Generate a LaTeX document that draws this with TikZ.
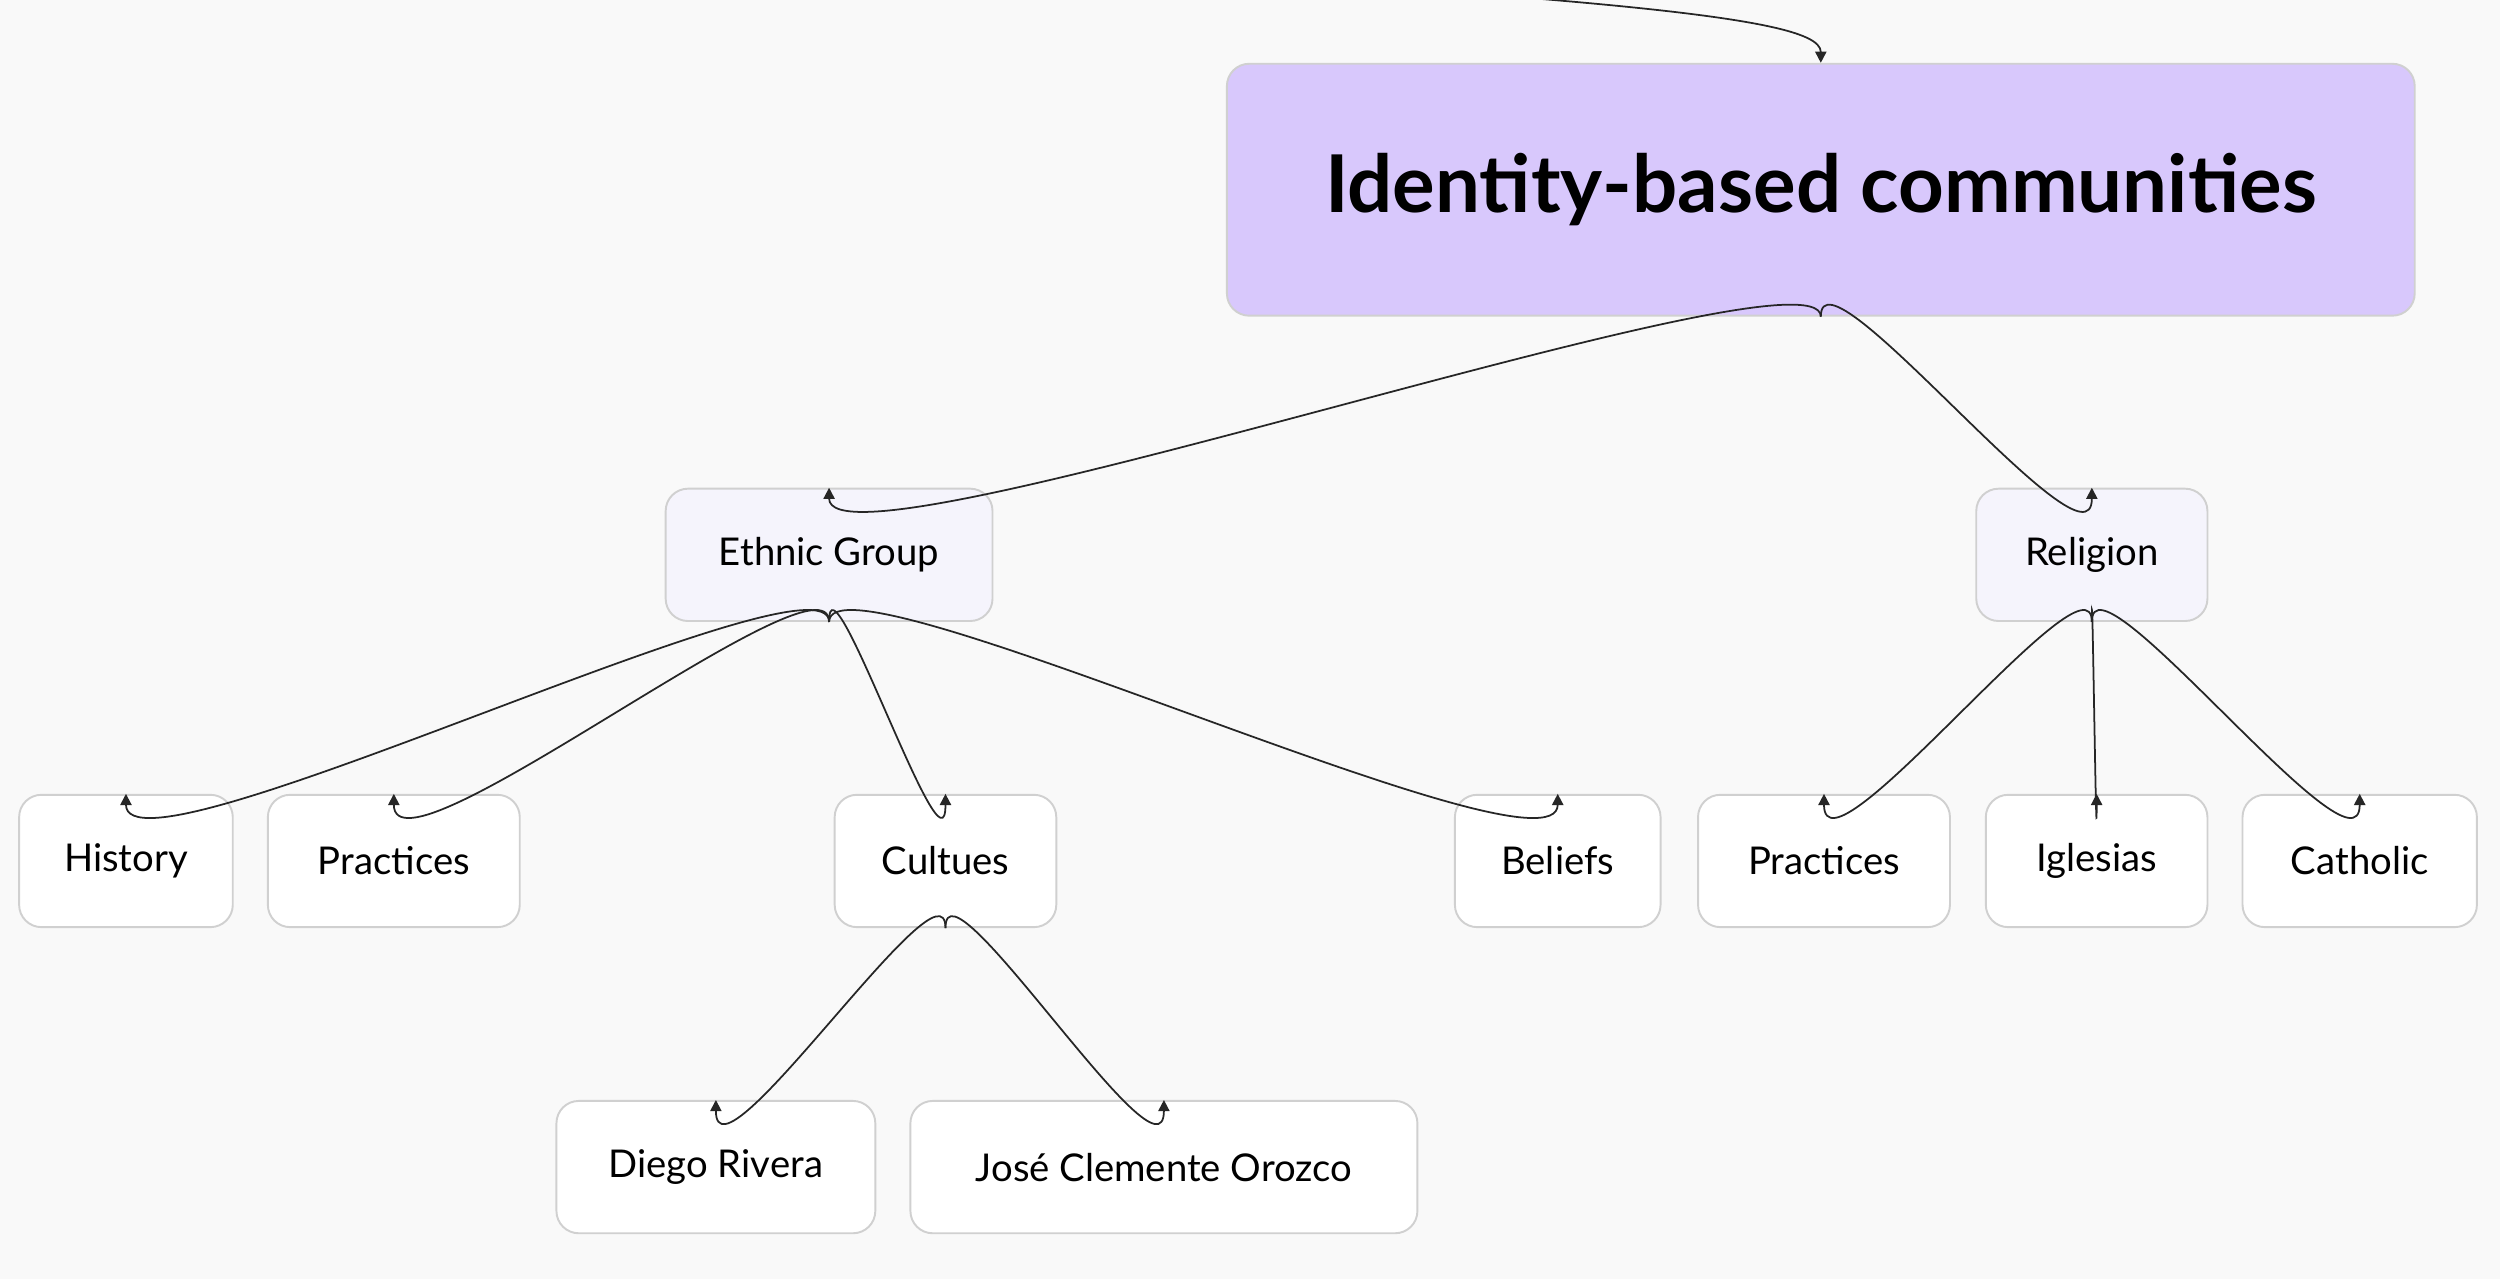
\documentclass[tikz,border=0pt]{standalone}
\usepackage{fontspec}
\setmainfont{Lato}
\usetikzlibrary{arrows.meta}
\definecolor{bg}{HTML}{F9F9F9}
\definecolor{titlefill}{HTML}{D8C8FC}
\definecolor{midfill}{HTML}{F5F4FC}
\definecolor{bord}{HTML}{D0D0D0}
\begin{document}
\begin{tikzpicture}[x=1pt,y=-1pt,
  box/.style={draw=bord,line width=1.2pt,rounded corners=14pt,inner sep=0pt,font=\fontsize{24}{28}\selectfont,text=black},
  leaf/.style={box,fill=white,minimum height=83pt},
  mid/.style={box,fill=midfill,minimum height=83pt},
  conn/.style={line width=1.1pt,draw=black!85,-{Triangle[length=7pt,width=7pt]}}]
\fill[bg] (0,0) rectangle (1568,802);
\useasboundingbox (0,0) rectangle (1568,802);
\node[box,fill=titlefill,minimum width=745pt,minimum height=158pt,font=\fontsize{50}{58}\selectfont\bfseries] (t) at (1142,119) {Identity-based communities};
\coordinate (src) at (950,-2);
\node[mid,minimum width=205pt] (eg) at (520,348) {Ethnic Group};
\node[mid,minimum width=145pt] (rel) at (1312,348) {Religion};
\node[leaf,minimum width=134pt] (hist) at (79,540) {History};
\node[leaf,minimum width=158pt] (pr1) at (247,540) {Practices};
\node[leaf,minimum width=139pt] (cul) at (593,540) {Cultues};
\node[leaf,minimum width=129pt] (bel) at (977,540) {Beliefs};
\node[leaf,minimum width=158pt] (pr2) at (1144,540) {Practices};
\node[leaf,minimum width=139pt] (igl) at (1315,540) {Iglesias};
\node[leaf,minimum width=147pt] (cat) at (1480,540) {Catholic};
\node[leaf,minimum width=200pt] (dr) at (449,732) {Diego Rivera};
\node[leaf,minimum width=318pt] (jco) at (730,732) {José Clemente Orozco};
\draw[conn] (src) .. controls (1100,10) and (1142,20) .. (t.north);
\foreach \p/\c in {t/eg,t/rel,eg/hist,eg/pr1,eg/cul,eg/bel,rel/pr2,rel/igl,rel/cat,cul/dr,cul/jco}{
  \draw[conn] (\p.south) .. controls ([yshift=50pt]\p.south) and ([yshift=-60pt]\c.north) .. (\c.north);
}
\end{tikzpicture}
\end{document}
